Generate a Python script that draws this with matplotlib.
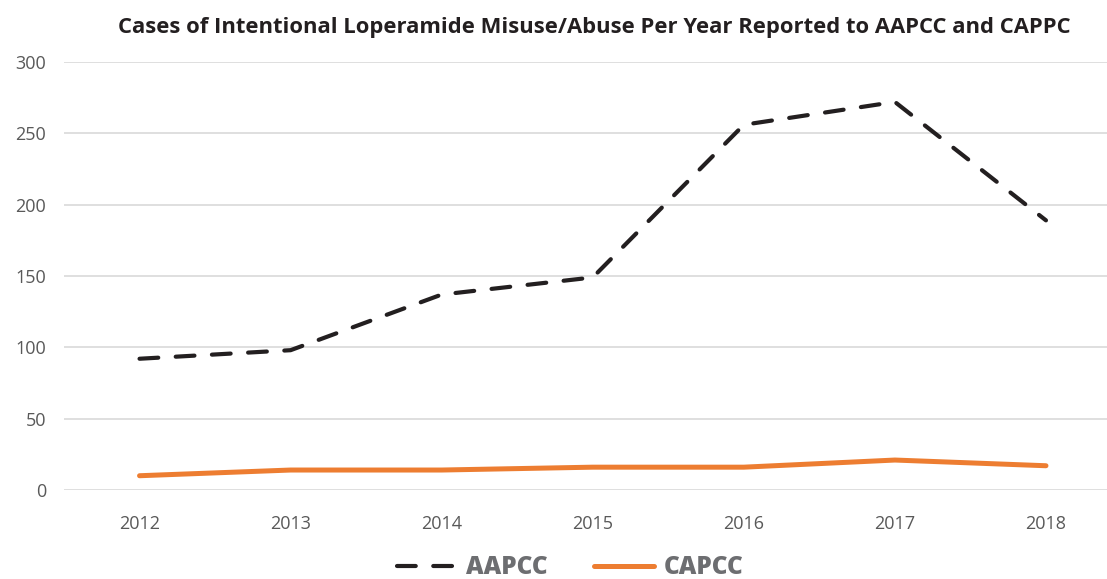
import numpy as np
import matplotlib.pyplot as plt
from matplotlib.lines import Line2D

years = ['2012', '2013', '2014', '2015', '2016', '2017', '2018']
aapcc = [92, 98, 137, 149, 256, 272, 189]
capcc = [10, 14, 14, 16, 16, 21, 17]

plt.rcParams['font.family'] = ['Open Sans', 'DejaVu Sans']

fig = plt.figure(figsize=(11.07, 5.79), dpi=100)
ax = fig.add_axes([64 / 1107, 1 - 490 / 579, (1107 - 64) / 1107, 428 / 579])

x = np.arange(len(years))
dash = (0, (4.5, 4.2))
ax.plot(x, aapcc, color='#231f20', linewidth=3.0, linestyle=dash,
        dash_capstyle='round', label='AAPCC', zorder=3)
ax.plot(x, capcc, color='#ed7d31', linewidth=3.6, solid_capstyle='round',
        label='CAPCC', zorder=3)

ax.set_ylim(0, 300)
ax.set_xlim(-0.5, 6.5 - 14.5 / 151)
ax.set_yticks(np.arange(0, 301, 50))
ax.set_xticks(x)
ax.set_xticklabels(years)
ax.grid(axis='y', color='#d9d9d9', linewidth=1.2)
ax.set_axisbelow(True)
for s in ax.spines.values():
    s.set_visible(False)
ax.tick_params(axis='both', length=0, labelsize=13, labelcolor='#595959')
ax.tick_params(axis='y', pad=13)
ax.tick_params(axis='x', pad=18)

fig.text(594 / 1107, 1 - 28 / 579, 'Cases of Intentional Loperamide Misuse/Abuse Per Year Reported to AAPCC and CAPPC',
         ha='center', va='center', fontsize=15.8, fontweight='bold', color='#231f20')

handles = [Line2D([], [], color='#231f20', linewidth=3.0, linestyle=dash, dash_capstyle='round'),
           Line2D([], [], color='#ed7d31', linewidth=3.6, solid_capstyle='round')]
leg = fig.legend(handles, ['AAPCC', 'CAPCC'], loc='center', bbox_to_anchor=(570 / 1107, 1 - 568 / 579),
                 ncol=2, frameon=False, handlelength=2.45, columnspacing=1.9, handletextpad=0.4,
                 prop={'size': 17.5, 'weight': 'heavy'})
for t in leg.get_texts():
    t.set_color('#6d6e71')

fig.savefig('out.png', dpi=100)
